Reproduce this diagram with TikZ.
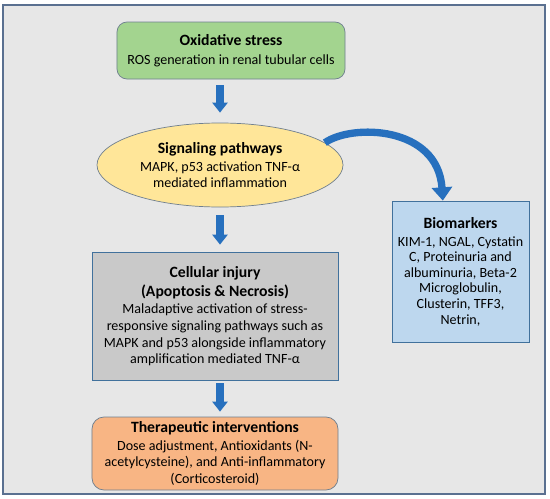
\documentclass[tikz,border=0pt]{standalone}
\usepackage{fontspec}
\setmainfont{Carlito}
\usetikzlibrary{arrows.meta,shapes.geometric}

\definecolor{bgGray}{HTML}{E7E7E7}
\definecolor{frameBlue}{HTML}{5A7090}
\definecolor{edgeBlue}{HTML}{41719C}
\definecolor{edgeGray}{HTML}{6F7F8F}
\definecolor{oxGreen}{HTML}{A3D48F}
\definecolor{sigYellow}{HTML}{FFE699}
\definecolor{cellGray}{HTML}{C9C9C9}
\definecolor{theraOrange}{HTML}{F8B584}
\definecolor{bioBlue}{HTML}{BDD7EE}
\definecolor{arrowBlue}{HTML}{2770BE}

\newcommand{\boxtitle}[1]{{\fontsize{13.4}{15}\selectfont\bfseries #1}}

\begin{document}
\begin{tikzpicture}[x=0.03cm, y=-0.03cm,
  box/.style={line width=0.6pt, align=center, inner sep=0pt,
    font=\fontsize{12}{14.2}\selectfont},
  blockarrow/.style={line width=0.24cm, draw=arrowBlue,
    -{Triangle[width=0.45cm, length=0.3cm]}}]
  \useasboundingbox (0,0) rectangle (550,499);
  \draw[frameBlue, fill=bgGray, line width=1.6pt] (3,5) rectangle (545,494);

  % Main chain
  \node[box, draw=edgeGray, fill=oxGreen, rounded corners=0.3cm,
    minimum width=6.84cm, minimum height=1.71cm] (oxid) at (231,50.5)
    {\boxtitle{Oxidative stress}\\[2pt]ROS generation in renal tubular cells};
  \node[box, ellipse, draw=edgeGray, fill=sigYellow,
    minimum width=7.38cm, minimum height=2.52cm] (signal) at (220,165)
    {\boxtitle{Signaling pathways}\\[1pt]MAPK, p53 activation TNF-α\\mediated inflammation};
  \node[box, draw=edgeBlue, fill=cellGray,
    minimum width=7.38cm, minimum height=3.84cm] (cell) at (215,316)
    {\boxtitle{Cellular injury}\\[2pt]\boxtitle{(Apoptosis \& Necrosis)}\\[1pt]Maladaptive activation of stress-\\responsive signaling pathways such as\\MAPK and p53 alongside inflammatory\\amplification mediated TNF-α};
  \node[box, draw=edgeGray, fill=theraOrange, rounded corners=0.36cm,
    minimum width=7.38cm, minimum height=2.19cm] (thera) at (215,453.5)
    {\boxtitle{Therapeutic interventions}\\[1pt]Dose adjustment, Antioxidants (N-\\acetylcysteine), and Anti-inflammatory\\(Corticosteroid)};

  % Side box
  \node[box, draw=edgeBlue, fill=bioBlue, font=\fontsize{12}{13.3}\selectfont,
    minimum width=4.11cm, minimum height=4.23cm] (bio) at (460.5,271.5)
    {\boxtitle{Biomarkers}\\[2pt]KIM-1, NGAL, Cystatin\\C, Proteinuria and\\albuminuria, Beta-2\\Microglobulin,\\Clusterin, TFF3,\\Netrin,};

  % Arrows
  \draw[blockarrow, shorten <=0.18cm, shorten >=0.3cm]
    (signal.north |- oxid.south) -- (signal.north);
  \draw[blockarrow, shorten <=0.24cm, shorten >=0.21cm]
    (signal.south) -- (signal.south |- cell.north);
  \draw[blockarrow, shorten <=0.09cm, shorten >=0.15cm]
    (signal.south |- cell.south) -- (signal.south |- thera.north);
  \draw[line width=0.22cm, draw=arrowBlue, -{Triangle[width=0.6cm, length=0.4cm]}]
    (signal.12) .. controls +(27,-19) and +(-5,-75) .. (bio.104);
\end{tikzpicture}
\end{document}
